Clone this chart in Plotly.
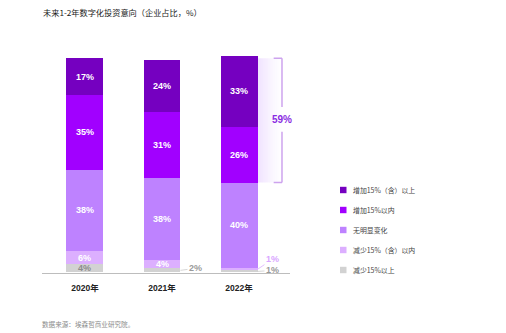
import plotly.graph_objects as go

# ---------------- data ----------------
years = ["2020年", "2021年", "2022年"]
series_names = ["增加15%（含）以上", "增加15%以内", "无明显变化", "减少15%（含）以内", "减少15%以上"]
inc_big = [17, 24, 33]
inc_small = [35, 31, 26]
no_change = [38, 38, 40]
dec_small = [6, 4, 1]
dec_big = [4, 2, 1]
bracket_label = "59%"

colors = ["#7500C0", "#A100FF", "#BE82FF", "#DCAFFF", "#D2D2D2"]
W, H = 506, 333

# stacking bottom -> top
stack = [dec_big, dec_small, no_change, inc_small, inc_big]
stack_names = series_names[::-1]
stack_colors = colors[::-1]

xs = list(range(len(years)))
BW = 0.48

fig = go.Figure()
for vals, name, col in zip(stack, stack_names, stack_colors):
    fig.add_trace(go.Bar(x=xs, y=vals, name=name, marker=dict(color=col, line=dict(width=0)),
                         width=BW, showlegend=False, hoverinfo="skip"))
fig.update_layout(barmode="stack")

FONT_NUM = "Liberation Sans, Noto Sans CJK SC, sans-serif"
FONT_CJK = "Noto Sans CJK SC, sans-serif"

annotations = []
# segment labels
for i in xs:
    base = 0
    for k, vals in enumerate(stack):
        v = vals[i]
        mid = base + v / 2
        txt = f"<b>{v}%</b>"
        if v >= 3:
            col = "#8C8C8C" if k == 0 else "white"
            annotations.append(dict(x=i, y=mid, xref="x", yref="y", text=txt, showarrow=False,
                                    font=dict(family=FONT_NUM, size=9, color=col)))
        else:
            tcol = "#9A9A9A" if k == 0 else "#D9A6FF"
            lcol = "#CCCCCC" if k == 0 else "#DCAFFF"
            ay = -2 if k == 0 else -10
            if i == 2 and k == 0:
                ay = -1
            annotations.append(dict(x=i + BW / 2, y=mid, xref="x", yref="y", text=txt, showarrow=True,
                                    arrowhead=0, arrowwidth=0.8, arrowcolor=lcol, ax=15, ay=ay,
                                    font=dict(family=FONT_NUM, size=9, color=tcol)))
        base += v

# bracket around top two segments of last bar
last = len(years) - 1
y_lo = sum(s[last] for s in stack[:3])
y_hi = sum(s[last] for s in stack)
y_mid = (y_lo + y_hi) / 2
bx_l = last + BW / 2
bx_r = last + 0.558
shapes = []
# gradient shade
n = 14
for j in range(n):
    x0 = bx_l + (bx_r - bx_l) * j / n
    x1 = bx_l + (bx_r - bx_l) * (j + 1) / n
    op = 0.22 * (1 - j / n) ** 1.3
    shapes.append(dict(type="rect", xref="x", yref="y", x0=x0, x1=x1, y0=y_lo, y1=100,
                       fillcolor="#BE82FF", opacity=op, line=dict(width=0), layer="below"))
lc = "#CDA3EE"
bx_t = last + 0.45
shapes += [
    dict(type="line", xref="x", yref="y", x0=bx_t, x1=bx_r, y0=100, y1=100, line=dict(color=lc, width=1.5)),
    dict(type="line", xref="x", yref="y", x0=bx_t, x1=bx_r, y0=y_lo, y1=y_lo, line=dict(color=lc, width=1.5)),
    dict(type="line", xref="x", yref="y", x0=bx_r, x1=bx_r, y0=100, y1=y_mid + 5.8, line=dict(color=lc, width=1.5)),
    dict(type="line", xref="x", yref="y", x0=bx_r, x1=bx_r, y0=y_mid - 5.8, y1=y_lo, line=dict(color=lc, width=1.5)),
]
annotations.append(dict(x=bx_r, y=y_mid, xref="x", yref="y", text=f"<b>{bracket_label}</b>", showarrow=False,
                        font=dict(family=FONT_NUM, size=10, color="#8A2BE2")))

# manual legend
for j, (name, col) in enumerate(zip(series_names, colors)):
    cy = 190 + 20 * j
    shapes.append(dict(type="rect", xref="paper", yref="paper", x0=340 / W, x1=346.5 / W,
                       y0=1 - (cy + 3.2) / H, y1=1 - (cy - 3.2) / H, fillcolor=col, line=dict(width=0)))
    annotations.append(dict(x=351 / W, y=1 - cy / H, xref="paper", yref="paper", text=name, showarrow=False,
                            xanchor="left", yanchor="middle", font=dict(family=FONT_CJK, size=6.9, color="#444444")))

# title & source
annotations.append(dict(x=41 / W, y=1 - 12.5 / H, xref="paper", yref="paper", text="未来1-2年数字化投资意向（企业占比，%）",
                        showarrow=False, xanchor="left", yanchor="middle",
                        font=dict(family=FONT_CJK, size=8.2, color="#1A1A1A")))
annotations.append(dict(x=40 / W, y=1 - 324 / H, xref="paper", yref="paper", text="数据来源：埃森哲商业研究院。",
                        showarrow=False, xanchor="left", yanchor="middle",
                        font=dict(family=FONT_CJK, size=6.6, color="#8C8C8C")))

base_px = 272.5
px_per = 2.142
ymax = 102
top_px = base_px - ymax * px_per
fig.update_layout(
    width=W, height=H, margin=dict(l=0, r=0, t=0, b=0),
    paper_bgcolor="white", plot_bgcolor="white",
    xaxis=dict(domain=[42 / W, 290 / W], range=[-0.558, 2.662], tickvals=xs,
               ticktext=[f"<b>{y}</b>" for y in years], showgrid=False, zeroline=False,
               showline=True, linecolor="#BDBDBD", linewidth=1, ticks="", ticklabelstandoff=7,
               tickfont=dict(family=FONT_NUM, size=8.5, color="#222222")),
    yaxis=dict(domain=[(H - base_px) / H, (H - top_px) / H], range=[0, ymax], visible=False),
    shapes=shapes, annotations=annotations, bargap=0,
)
fig.write_html("out.html")
